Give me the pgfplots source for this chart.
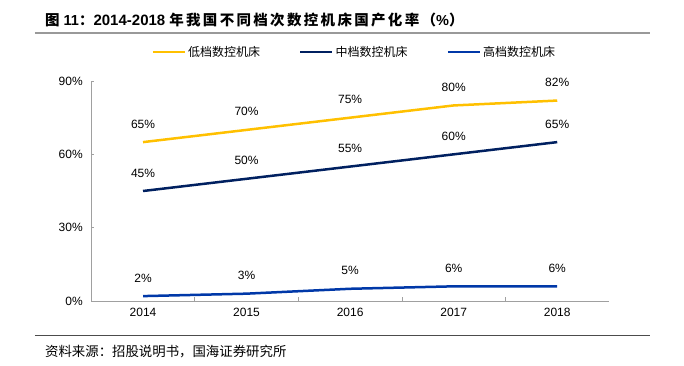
\documentclass[border=0pt]{standalone}
\usepackage{pgfplots}
\pgfplotsset{compat=1.18}
\usetikzlibrary{calc}
\usepackage{fontspec}
\setmainfont{Liberation Sans}
\newfontfamily\cjk{Noto Sans CJK SC}
\newfontfamily\cjkt[LetterSpace=16]{Noto Sans CJK SC}
\definecolor{cLow}{RGB}{255,192,0}
\definecolor{cMid}{RGB}{0,32,96}
\definecolor{cHigh}{RGB}{0,56,168}
\definecolor{axgray}{RGB}{160,160,160}
\begin{document}
\begin{tikzpicture}
\begin{axis}[name=ax, at={(0pt,0pt)}, anchor=south west, scale only axis,
  width=517.75pt, height=220pt,
  xmin=-0.5, xmax=4.5, ymin=0, ymax=90,
  axis x line*=bottom, axis y line*=left,
  axis line style={axgray, line width=0.8pt},
  xtick={0,...,4}, xticklabels={2014,2015,2016,2017,2018},
  major x tick style={draw=none},
  minor xtick={0.5,1.5,2.5,3.5},
  minor tick length=4pt,
  minor x tick style={axgray, line width=0.8pt},
  ytick={0,30,60,90}, yticklabel={\pgfmathprintnumber{\tick}\%},
  tick align=inside, major tick length=3pt,
  major y tick style={axgray, line width=0.8pt},
  ticklabel style={font=\fontsize{12}{14}\selectfont},
  /pgf/number format/assume math mode=true,
  xticklabel style={yshift=-4pt}, yticklabel style={xshift=-5pt},
  point meta=y,
  nodes near coords={\pgfmathprintnumber{\pgfplotspointmeta}\%},
  every node near coord/.append style={font=\fontsize{12}{14}\selectfont, anchor=base, inner sep=0, yshift=14pt, text=black},
  clip=false,
  legend columns=3,
  legend style={at={(0.508,1.132)}, anchor=center, draw=none, fill=none,
    font=\cjk\fontsize{12}{14}\selectfont,
    /tikz/every even column/.append style={column sep=37pt}},
  legend image code/.code={\draw[#1, line width=2.5pt] (0,0) -- (32pt,0);},
]
\addplot[cLow, line width=2.5pt, no markers] coordinates {(0,65) (1,70) (2,75) (3,80) (4,82)};
\addlegendentry{低档数控机床}
\addplot[cMid, line width=2.5pt, no markers] coordinates {(0,45) (1,50) (2,55) (3,60) (4,65)};
\addlegendentry{中档数控机床}
\addplot[cHigh, line width=2.5pt, no markers] coordinates {(0,2) (1,3) (2,5) (3,6) (4,6)};
\addlegendentry{高档数控机床}
\end{axis}
\pgfresetboundingbox
\coordinate (O) at ($(ax.south west)+(-91.25pt,-65pt)$);
\begin{scope}[shift={(O)}, x=1pt, y=1pt]
\path[use as bounding box] (0,0) rectangle (684,366);
\node[anchor=base west, font=\bfseries\fontsize{14.5}{16}\selectfont, inner sep=0] at (45,340) {{\cjkt 图} 11{\cjkt ：}{\fontsize{15}{16}\selectfont 2014-2018} {\cjkt 年我国不同档次数控机床国产化率（}\%{\cjkt ）}};
\draw[line width=2pt, black!40] (35,333) -- (650,333);
\draw[line width=0.8pt, black!70] (35,31) -- (650,31);
\node[anchor=base west, inner sep=0, font=\fontsize{13.4}{15}\selectfont] at (45,9) {\cjk 资料来源：招股说明书，国海证券研究所};
\end{scope}
\end{tikzpicture}
\end{document}
